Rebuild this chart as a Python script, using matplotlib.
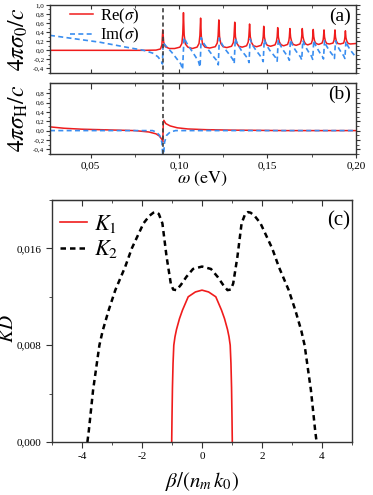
import numpy as np
import matplotlib
matplotlib.use("Agg")
import matplotlib.pyplot as plt
from matplotlib.ticker import FuncFormatter, MultipleLocator

plt.rcParams['font.family'] = ['Liberation Serif', 'DejaVu Serif']
plt.rcParams['mathtext.fontset'] = 'stix'
plt.rcParams['axes.unicode_minus'] = False

# ---- panel (a): optical conductivity ----
re_w = [0.027, 0.080, 0.087, 0.0895, 0.0903, 0.0908, 0.0913, 0.0922, 0.0945, 0.0975,
        0.1005, 0.1016, 0.1021, 0.1025, 0.1029, 0.1036, 0.1050, 0.1075,
        0.1102, 0.1113, 0.1118, 0.1122, 0.1126, 0.1133, 0.1147, 0.1173,
        0.1205, 0.1216, 0.1221, 0.1225, 0.1229, 0.1236, 0.1249, 0.1270,
        0.1297, 0.1307, 0.1311, 0.1315, 0.1319, 0.1326, 0.1338, 0.1357,
        0.1382, 0.1391, 0.1395, 0.1399, 0.1403, 0.1410, 0.1421, 0.1439,
        0.1464, 0.1472, 0.1476, 0.1479, 0.1483, 0.1489, 0.1499, 0.1518,
        0.1543, 0.1551, 0.1555, 0.1558, 0.1562, 0.1568, 0.1578, 0.1592,
        0.1614, 0.1621, 0.1624, 0.1627, 0.1631, 0.1637, 0.1646, 0.1662,
        0.1684, 0.1691, 0.1694, 0.1697, 0.1701, 0.1707, 0.1716, 0.1728,
        0.1748, 0.1754, 0.1756, 0.1759, 0.1762, 0.1767, 0.1775, 0.1790,
        0.1809, 0.1815, 0.1817, 0.1820, 0.1823, 0.1828, 0.1836, 0.1851,
        0.1871, 0.1877, 0.1879, 0.1882, 0.1885, 0.1890, 0.1898, 0.1912,
        0.1931, 0.1936, 0.1938, 0.1941, 0.1944, 0.1949, 0.1957, 0.1970, 0.2000]
re_s = [0.0, 0.0, 0.005, 0.03, 0.12, 0.45, 0.18, 0.08, 0.04, 0.04,
        0.07, 0.15, 0.36, 0.83, 0.34, 0.14, 0.07, 0.04,
        0.07, 0.15, 0.33, 0.71, 0.31, 0.14, 0.07, 0.05,
        0.08, 0.16, 0.32, 0.67, 0.31, 0.15, 0.08, 0.06,
        0.09, 0.17, 0.31, 0.62, 0.30, 0.16, 0.09, 0.07,
        0.10, 0.18, 0.31, 0.58, 0.30, 0.17, 0.10, 0.08,
        0.11, 0.19, 0.30, 0.53, 0.29, 0.18, 0.11, 0.09,
        0.12, 0.20, 0.30, 0.50, 0.29, 0.18, 0.12, 0.10,
        0.13, 0.21, 0.30, 0.48, 0.29, 0.19, 0.13, 0.11,
        0.14, 0.22, 0.31, 0.48, 0.30, 0.20, 0.14, 0.12,
        0.15, 0.22, 0.30, 0.46, 0.30, 0.20, 0.15, 0.13,
        0.16, 0.23, 0.30, 0.45, 0.29, 0.20, 0.15, 0.14,
        0.16, 0.23, 0.30, 0.45, 0.29, 0.20, 0.15, 0.14,
        0.16, 0.23, 0.29, 0.43, 0.28, 0.20, 0.15, 0.14, 0.15]

im_w = [0.027, 0.040, 0.055, 0.070, 0.080, 0.085, 0.088, 0.0900, 0.0906,
        0.0910, 0.0925, 0.0960, 0.0990, 0.1010, 0.1020,
        0.1028, 0.1045, 0.1070, 0.1095, 0.1110, 0.1119,
        0.1125, 0.1142, 0.1168, 0.1195, 0.1212, 0.1222,
        0.1228, 0.1244, 0.1266, 0.1290, 0.1304, 0.1312,
        0.1318, 0.1332, 0.1352, 0.1373, 0.1388, 0.1396,
        0.1402, 0.1415, 0.1435, 0.1455, 0.1468, 0.1476,
        0.1482, 0.1494, 0.1513, 0.1532, 0.1546, 0.1555,
        0.1561, 0.1572, 0.1588, 0.1604, 0.1616, 0.1624,
        0.1630, 0.1641, 0.1657, 0.1673, 0.1686, 0.1694,
        0.1700, 0.1710, 0.1724, 0.1738, 0.1749, 0.1756,
        0.1762, 0.1771, 0.1785, 0.1799, 0.1810, 0.1817,
        0.1823, 0.1832, 0.1846, 0.1860, 0.1872, 0.1879,
        0.1885, 0.1894, 0.1907, 0.1920, 0.1931, 0.1938,
        0.1944, 0.1953, 0.1965, 0.1978, 0.1990, 0.2000]
im_s = [0.33, 0.26, 0.18, 0.07, 0.0, -0.06, -0.14, -0.24, -0.30,
        0.17, 0.10, -0.05, -0.20, -0.30, -0.42,
        0.28, 0.15, 0.0, -0.15, -0.25, -0.37,
        0.28, 0.14, 0.0, -0.14, -0.22, -0.32,
        0.27, 0.13, 0.0, -0.12, -0.20, -0.29,
        0.26, 0.13, 0.0, -0.10, -0.18, -0.27,
        0.25, 0.12, 0.0, -0.10, -0.17, -0.25,
        0.24, 0.12, 0.0, -0.09, -0.16, -0.24,
        0.23, 0.12, 0.01, -0.08, -0.15, -0.22,
        0.23, 0.12, 0.01, -0.08, -0.14, -0.21,
        0.22, 0.12, 0.02, -0.07, -0.13, -0.20,
        0.22, 0.12, 0.02, -0.07, -0.13, -0.19,
        0.21, 0.11, 0.02, -0.06, -0.12, -0.18,
        0.21, 0.11, 0.02, -0.06, -0.12, -0.18,
        0.20, 0.11, 0.03, -0.04, -0.10, -0.15]

# ---- panel (b): Hall conductivity ----
hre_w = [0.027, 0.035, 0.045, 0.060, 0.075, 0.083, 0.0870, 0.0890, 0.0903, 0.0908,
         0.0911, 0.0914, 0.0925, 0.0950, 0.0990, 0.1050, 0.1150, 0.1300, 0.1600, 0.2000]
hre_s = [0.08, 0.05, 0.03, 0.015, 0.0, -0.03, -0.07, -0.12, -0.19, -0.24,
         0.16, 0.22, 0.15, 0.10, 0.06, 0.035, 0.02, 0.01, 0.0, 0.0]
him_w = [0.027, 0.085, 0.0870, 0.0890, 0.0903, 0.0909, 0.0911, 0.0918, 0.0930, 0.0950, 0.0980, 0.2000]
him_s = [0.0, 0.0, -0.03, -0.10, -0.25, -0.60, -0.60, -0.25, -0.10, -0.03, 0.0, 0.0]

omega_c = 0.0912

# ---- panel (c): KD vs beta/(n_m k_0) ----
k1_beta = [-1.01, -1.00, -0.985, -0.965, -0.94, -0.90, -0.85, -0.75, -0.65, -0.46, -0.22, 0.0,
           0.22, 0.46, 0.65, 0.75, 0.85, 0.90, 0.94, 0.965, 0.985, 1.00, 1.01]
k1_kd = [0.0, 0.002, 0.0045, 0.0065, 0.0080, 0.0087, 0.0093, 0.0102, 0.0109, 0.0120, 0.0124, 0.01255,
         0.0124, 0.0120, 0.0109, 0.0102, 0.0093, 0.0087, 0.0080, 0.0065, 0.0045, 0.002, 0.0]
k2_beta = [-3.82, -3.77, -3.63, -3.42, -3.31, -3.11, -2.89, -2.56, -2.34, -1.95, -1.75, -1.62,
           -1.53, -1.44, -1.32, -1.18, -1.04, -0.96, -0.85, -0.70, -0.52, -0.30, 0.0,
           0.30, 0.52, 0.70, 0.85, 0.96, 1.04, 1.18, 1.32, 1.44, 1.53, 1.62, 1.75, 1.95,
           2.34, 2.56, 2.89, 3.11, 3.31, 3.42, 3.63, 3.77, 3.82]
k2_kd = [0.0, 0.0010, 0.0043, 0.0080, 0.0092, 0.0109, 0.01255, 0.01448, 0.0160, 0.01807, 0.0187, 0.01895,
         0.0190, 0.01885, 0.01807, 0.0153, 0.0131, 0.0126, 0.01255, 0.0130, 0.01365, 0.0143, 0.0145,
         0.0143, 0.01365, 0.0130, 0.01255, 0.0126, 0.0131, 0.0153, 0.01807, 0.01885, 0.0190, 0.01895,
         0.0187, 0.01807, 0.0160, 0.01448, 0.01255, 0.0109, 0.0092, 0.0080, 0.0043, 0.0010, 0.0]

RED = '#f01c1c'
BLUE = '#3a8ef0'
SPINE = '#333333'


def comma(fmt):
    return FuncFormatter(lambda v, p: (fmt % v).replace('.', ','))


def style(ax):
    for s in ax.spines.values():
        s.set_color(SPINE)
        s.set_linewidth(1.0)


def top_ticks(ax, major, minor):
    sec = ax.secondary_xaxis('top')
    sec.set_ticks(major)
    sec.set_ticks(minor, minor=True)
    sec.tick_params(which='both', direction='in', labeltop=False, color=SPINE)
    sec.tick_params(which='major', length=4)
    sec.tick_params(which='minor', length=2.5)
    sec.spines['top'].set_color(SPINE)


fig = plt.figure(figsize=(3.73, 4.95), dpi=100)
ax1 = fig.add_axes([0.134, 0.8525, 0.820, 0.1375])
ax2 = fig.add_axes([0.134, 0.689, 0.820, 0.1434])
ax3 = fig.add_axes([0.1394, 0.107, 0.8043, 0.489])

# (a)
ax1.plot(re_w, re_s, color=RED, lw=1.1, label=r'Re($\sigma$)')
ax1.plot(im_w, im_s, color=BLUE, lw=1.2, ls=(0, (3, 2)), label=r'Im($\sigma$)')
ax1.axvline(omega_c, ymin=-0.16, ymax=1, color='#404040', lw=1.2, ls=(0, (2.5, 1.8)), clip_on=False)
ax1.set_xlim(0.027, 0.2)
ax1.set_ylim(-0.5, 1.0)
ax1.yaxis.set_major_locator(MultipleLocator(0.2))
ax1.yaxis.set_minor_locator(MultipleLocator(0.1))
ax1.yaxis.set_major_formatter(comma('%.1f'))
ax1.xaxis.set_major_locator(MultipleLocator(0.05))
ax1.xaxis.set_minor_locator(MultipleLocator(0.025))
ax1.tick_params(axis='x', which='both', direction='in', top=True, labelbottom=False, color=SPINE)
ax1.tick_params(axis='y', which='both', direction='out', right=True, labelsize=5, pad=1, color=SPINE)
ax1.tick_params(which='major', length=3)
ax1.tick_params(which='minor', length=1.8)
ax1.set_ylabel(r'$4\pi\sigma_0/c$', fontsize=17)
ax1.yaxis.set_label_coords(-0.065, 0.5)
ax1.text(0.985, 0.96, '(a)', transform=ax1.transAxes, ha='right', va='top', fontsize=14)
ax1.legend(loc='upper left', bbox_to_anchor=(0.06, 1.0), frameon=False, fontsize=12,
           handlelength=1.4, handletextpad=0.4, labelspacing=0.0, borderpad=0.1, borderaxespad=0)
style(ax1)

# (b)
ax2.plot(hre_w, hre_s, color=RED, lw=1.1)
ax2.plot(him_w, him_s, color=BLUE, lw=1.2, ls=(0, (3, 2)))
ax2.axvline(omega_c, color='#404040', lw=1.2, ls=(0, (2.5, 1.8)))
ax2.set_xlim(0.027, 0.2)
ax2.set_ylim(-0.5, 1.02)
ax2.set_yticks([-0.4, -0.2, 0.0, 0.2, 0.4, 0.6, 0.8])
ax2.set_yticks(np.arange(-0.5, 1.0, 0.1), minor=True)
ax2.yaxis.set_major_formatter(comma('%.1f'))
ax2.xaxis.set_major_locator(MultipleLocator(0.05))
ax2.xaxis.set_minor_locator(MultipleLocator(0.025))
ax2.xaxis.set_major_formatter(comma('%.2f'))
ax2.tick_params(axis='x', which='both', direction='out', labelsize=8, pad=2, color=SPINE)
ax2.tick_params(axis='y', which='both', direction='out', right=True, labelsize=5, pad=1, color=SPINE)
ax2.tick_params(which='major', length=3)
ax2.tick_params(which='minor', length=1.8)
top_ticks(ax2, [0.05, 0.10, 0.15, 0.20], [0.075, 0.125, 0.175])
ax2.set_ylabel(r'$4\pi\sigma_{\rm H}/c$', fontsize=17)
ax2.yaxis.set_label_coords(-0.065, 0.5)
ax2.set_xlabel(r'$\omega\ (\mathrm{eV})$', fontsize=13, labelpad=0)
ax2.text(0.985, 0.96, '(b)', transform=ax2.transAxes, ha='right', va='top', fontsize=14)
style(ax2)

# (c)
ax3.plot(k1_beta, k1_kd, color=RED, lw=1.2, label=r'$K_{\mathit{1}}$')
ax3.plot(k2_beta, k2_kd, color='black', lw=1.8, ls=(0, (2.2, 1.6)), label=r'$K_2$')
ax3.set_xlim(-5, 5)
ax3.set_ylim(0, 0.020)
ax3.xaxis.set_major_locator(MultipleLocator(2))
ax3.xaxis.set_minor_locator(MultipleLocator(1))
ax3.yaxis.set_major_locator(MultipleLocator(0.008))
ax3.yaxis.set_minor_locator(MultipleLocator(0.004))
ax3.yaxis.set_major_formatter(comma('%.3f'))
ax3.tick_params(which='both', direction='out', labelsize=8, color=SPINE)
ax3.tick_params(which='major', length=4)
ax3.tick_params(which='minor', length=2.5)
top_ticks(ax3, [-4, -2, 0, 2, 4], [-3, -1, 1, 3])
ax3.set_xlabel(r'$\beta/(n_m\,k_{\mathit{0}})$', fontsize=15, labelpad=6)
ax3.set_ylabel(r'$KD$', fontsize=14)
ax3.yaxis.set_label_coords(-0.115, 0.47)
ax3.text(0.995, 0.955, '(c)', transform=ax3.transAxes, ha='right', va='top', fontsize=15)
ax3.legend(loc='upper left', bbox_to_anchor=(0.02, 0.955), frameon=False, fontsize=16,
           handlelength=1.2, handletextpad=0.3, labelspacing=0.15, borderpad=0.1, borderaxespad=0)
style(ax3)

fig.savefig('out.png', dpi=100)
